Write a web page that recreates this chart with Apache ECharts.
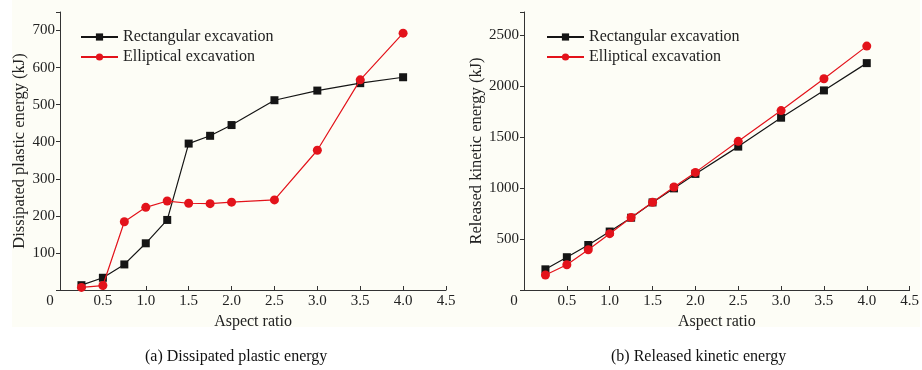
<!DOCTYPE html>
<html>
<head>
<meta charset="utf-8">
<script src="https://cdn.jsdelivr.net/npm/echarts@6.0.0/dist/echarts.min.js"></script>
<style>
  html, body { margin: 0; padding: 0; background: #fff; }
  #chart { width: 922px; height: 370px; }
</style>
</head>
<body>
<div id="chart"></div>
<script>
// aspect ratio of the excavation (x values shared by both panels)
const aspectRatio = [0.25, 0.5, 0.75, 1.0, 1.25, 1.5, 1.75, 2.0, 2.5, 3.0, 3.5, 4.0]

// (a) dissipated plastic energy, kJ
const plasticRect = [13, 33, 69, 126, 189, 395, 416, 445, 512, 538, 558, 574]
const plasticEllip = [7, 12, 184, 223, 240, 234, 233, 237, 243, 377, 567, 693]

// (b) released kinetic energy, kJ
const kineticRect = [203, 322, 442, 574, 710, 860, 998, 1140, 1408, 1692, 1960, 2228]
const kineticEllip = [147, 248, 395, 553, 712, 862, 1012, 1155, 1460, 1762, 2075, 2395]

const seriesNames = ['Rectangular excavation', 'Elliptical excavation']
const captions = ['(a) Dissipated plastic energy', '(b) Released kinetic energy']

const FONT = 'Liberation Serif'
const AXIS_COLOR = '#333'
const BLACK = '#151515'
const RED = '#e3131b'

const pairs = (ys) => aspectRatio.map((x, i) => [x, ys[i]])

// x axis: 0 .. 4.5, ticks pointing inward
function makeXAxis(gridIndex) {
  return {
    gridIndex,
    type: 'value',
    min: 0,
    max: 4.5,
    interval: 0.5,
    name: 'Aspect ratio',
    nameLocation: 'middle',
    nameGap: 20,
    nameTextStyle: { fontFamily: FONT, fontSize: 16, color: '#222' },
    axisLine: { show: true, onZero: false, lineStyle: { color: AXIS_COLOR, width: 1 } },
    axisTick: { show: true, inside: true, length: 4, lineStyle: { color: AXIS_COLOR } },
    axisLabel: {
      margin: 4,
      fontFamily: FONT,
      fontSize: 15,
      color: '#222',
      formatter: (v) => (v === 0 ? '{z|0}' : v.toFixed(1)),
      rich: { z: { fontFamily: FONT, fontSize: 15, color: '#222', padding: [0, 20, 0, 0] } }
    },
    splitLine: { show: false }
  }
}

// y axis: labels only on whole intervals, ticks pointing outward
function makeYAxis(gridIndex, name, max, interval, gap) {
  return {
    gridIndex,
    type: 'value',
    min: 0,
    max,
    interval,
    name,
    nameLocation: 'middle',
    nameGap: gap,
    nameTextStyle: { fontFamily: FONT, fontSize: 16.5, color: '#222' },
    axisLine: { show: true, lineStyle: { color: AXIS_COLOR, width: 1 } },
    axisTick: { show: true, length: 4, lineStyle: { color: AXIS_COLOR } },
    axisLabel: {
      margin: 5,
      fontFamily: FONT,
      fontSize: 15,
      color: '#222',
      formatter: (v) => (v === 0 || v % interval !== 0 ? '' : String(v))
    },
    splitLine: { show: false }
  }
}

function makeSeries(name, data, idx, isRect) {
  return {
    name,
    type: 'line',
    xAxisIndex: idx,
    yAxisIndex: idx,
    data,
    symbol: isRect ? 'rect' : 'circle',
    symbolSize: isRect ? 8 : 9,
    showSymbol: true,
    lineStyle: { color: isRect ? BLACK : RED, width: 1.2 },
    itemStyle: { color: isRect ? BLACK : RED },
    emphasis: { disabled: true },
    animation: false,
    z: isRect ? 2 : 3
  }
}

function makeLegend(left) {
  return {
    orient: 'vertical',
    left,
    top: 29,
    padding: 0,
    itemWidth: 37,
    itemHeight: 9,
    itemGap: 4,
    data: seriesNames,
    textStyle: { fontFamily: FONT, fontSize: 16, color: '#222' }
  }
}

const chart = echarts.init(document.getElementById('chart'), null, { renderer: 'canvas' })

const option = {
  animation: false,
  backgroundColor: '#fff',
  textStyle: { fontFamily: FONT },
  grid: [
    { left: 60, top: 12, width: 386, height: 278 },
    { left: 524, top: 12, width: 387, height: 278 }
  ],
  legend: [makeLegend(80), makeLegend(546)],
  xAxis: [makeXAxis(0), makeXAxis(1)],
  yAxis: [
    makeYAxis(0, 'Dissipated plastic energy (kJ)', 750, 100, 32),
    makeYAxis(1, 'Released kinetic energy (kJ)', 2730, 500, 38)
  ],
  // cream panel behind both plots + the two captions
  graphic: [
    {
      type: 'rect',
      z: -10,
      silent: true,
      shape: { x: 12, y: 0, width: 908, height: 327 },
      style: { fill: '#fdfdf6' }
    },
    {
      type: 'text',
      left: 145,
      top: 349,
      silent: true,
      style: { text: captions[0], font: '16px "Liberation Serif"', fill: '#111' }
    },
    {
      type: 'text',
      left: 611,
      top: 349,
      silent: true,
      style: { text: captions[1], font: '16px "Liberation Serif"', fill: '#111' }
    }
  ],
  series: [
    makeSeries(seriesNames[0], pairs(plasticRect), 0, true),
    makeSeries(seriesNames[1], pairs(plasticEllip), 0, false),
    makeSeries(seriesNames[0], pairs(kineticRect), 1, true),
    makeSeries(seriesNames[1], pairs(kineticEllip), 1, false)
  ]
}

chart.setOption(option)
</script>
</body>
</html>
